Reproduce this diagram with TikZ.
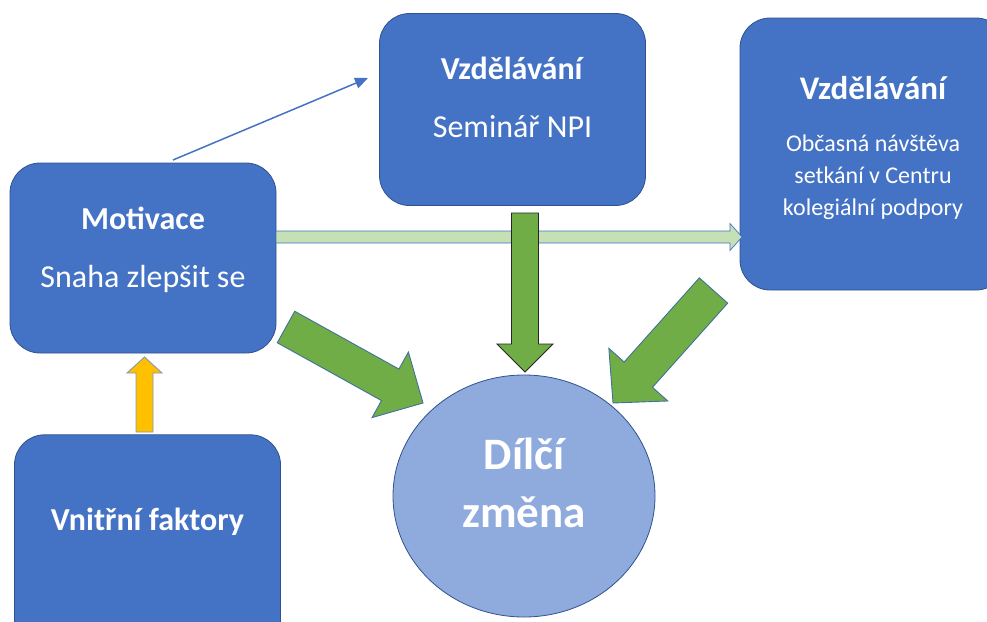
\documentclass[tikz,border=0pt]{standalone}
\usepackage{fontspec}
\setmainfont{Carlito}
\usetikzlibrary{shapes,arrows,arrows.meta,positioning,calc}

\definecolor{boxblue}{HTML}{4472C4}
\definecolor{boxline}{HTML}{2F528F}
\definecolor{circblue}{HTML}{8FAADC}
\definecolor{arrgreen}{HTML}{70AD47}
\definecolor{arrline}{HTML}{41719C}
\definecolor{palegreen}{HTML}{C5E0B4}
\definecolor{arryellow}{HTML}{FFC000}

% block arrow: [style]{tail}{tip}{shaft half width}{head half width}{head length}
\newcommand{\blockarrow}[6][]{%
  \coordinate (ahead) at ($(#3)!#6!(#2)$);
  \draw[#1] ($(#2)!#4!90:(#3)$) -- ($(ahead)!#4!90:(#3)$) -- ($(ahead)!#5!90:(#3)$)
    -- (#3) -- ($(ahead)!#5!-90:(#3)$) -- ($(ahead)!#4!-90:(#3)$)
    -- ($(#2)!#4!-90:(#3)$) -- cycle;
}

\begin{document}
\begin{tikzpicture}[
    x=1pt, y=-1pt,
    box/.style={rectangle, draw=boxline, line width=0.8pt, fill=boxblue, rounded corners=30pt, minimum width=266pt, align=center, text=white, font=\fontsize{32}{58}\selectfont},
    change/.style={ellipse, draw=boxline, line width=0.8pt, fill=circblue, minimum width=262pt, minimum height=242pt, align=center, text=white, font=\fontsize{45}{58}\selectfont\bfseries},
    bigarrow/.style={draw=arrline, line width=0.9pt, fill=arrgreen, line join=miter},
    thinarrow/.style={-{Triangle[length=13pt,width=11pt]}, draw=boxblue, line width=1.5pt}
]
\useasboundingbox (0,0) rectangle (987,621);

\node[box, minimum height=190pt] (motiv) at (143,258) {\textbf{Motivace}\\Snaha zlepšit se\rule[-21pt]{0pt}{0pt}};
\node[box, minimum height=220pt, below=81pt of motiv, xshift=4.5pt] (vnitrni) {\textbf{Vnitřní faktory}\rule[-51pt]{0pt}{0pt}};
\node[box, minimum height=192pt] (seminar) at (512.5,109.5) {\textbf{Vzdělávání}\\Seminář NPI\rule[-24pt]{0pt}{0pt}};
\node[box, minimum height=272pt, font=\fontsize{24}{32}\selectfont] (kolegium) at (873,154) {{\fontsize{33}{33}\selectfont\bfseries Vzdělávání}\\[20pt]Občasná návštěva\\setkání v Centru\\kolegiální podpory\rule[-17pt]{0pt}{0pt}};
\node[change] (zmena) at (524,496) {Dílčí\\změna\rule[-27pt]{0pt}{0pt}};

\coordinate (thin-a) at (173,160);
\coordinate (thin-b) at (368,78);
\coordinate (pale-a) at (276,237);
\coordinate (pale-b) at (742,237);
\coordinate (down-a) at (525,213);
\coordinate (down-b) at (525,372);
\coordinate (left-a) at (286,327);
\coordinate (left-b) at (423,403);
\coordinate (right-a) at (713.5,290.5);
\coordinate (right-b) at (613,403);
\coordinate (yel-a) at (144.5,432);
\coordinate (yel-b) at (144.5,357);

\draw[thinarrow] (thin-a) -- (thin-b);
\blockarrow[bigarrow, fill=palegreen, draw=boxblue, line width=0.7pt]{pale-a}{pale-b}{6pt}{13.5pt}{12pt}
\blockarrow[bigarrow, draw=black!85]{down-a}{down-b}{13.5pt}{28pt}{28pt}
\blockarrow[bigarrow]{left-a}{left-b}{18pt}{37.5pt}{37.5pt}
\blockarrow[bigarrow]{right-a}{right-b}{19pt}{39.5pt}{38pt}
\blockarrow[bigarrow, fill=arryellow, draw=boxline!60]{yel-a}{yel-b}{8.5pt}{17.5pt}{16pt}

\end{tikzpicture}
\end{document}
